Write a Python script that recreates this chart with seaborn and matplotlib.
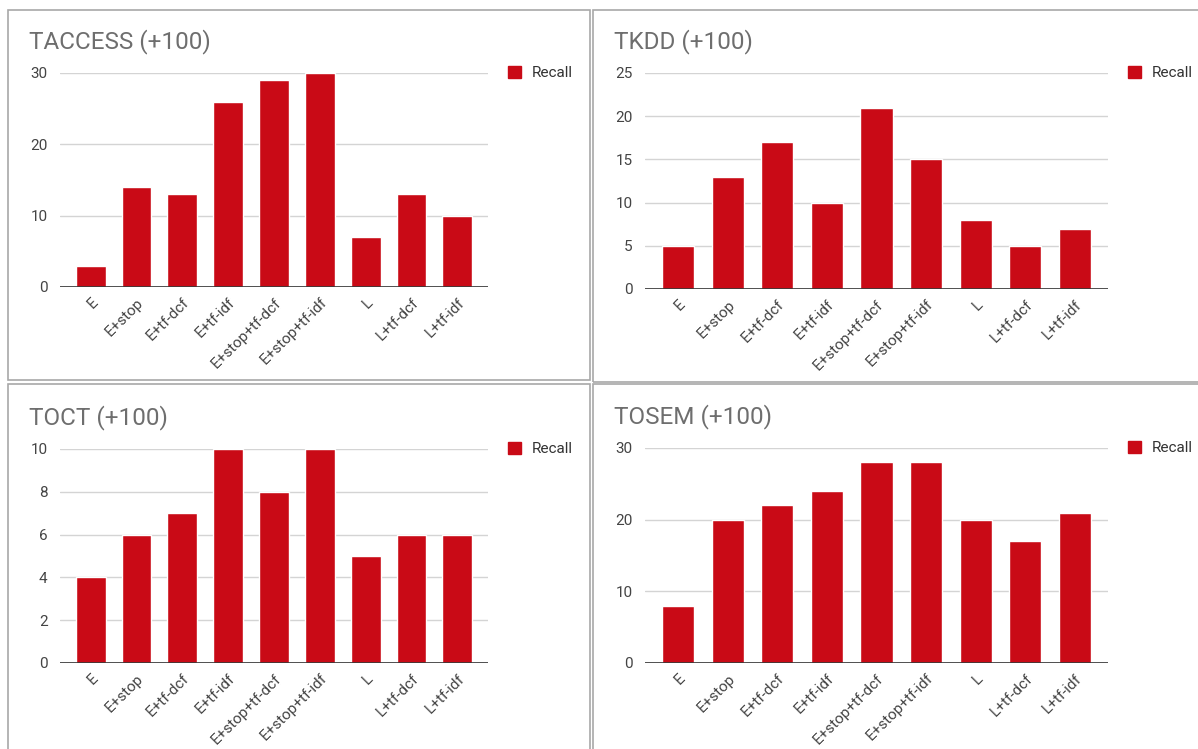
import matplotlib
matplotlib.use("Agg")
import matplotlib.pyplot as plt
import seaborn as sns
import pandas as pd
from matplotlib.patches import Rectangle, Patch

categories = ["E", "E+stop", "E+tf-dcf", "E+tf-idf", "E+stop+tf-dcf",
              "E+stop+tf-idf", "L", "L+tf-dcf", "L+tf-idf"]
taccess = [3, 14, 13, 26, 29, 30, 7, 13, 10]
tkdd = [5, 13, 17, 10, 21, 15, 8, 5, 7]
toct = [4, 6, 7, 10, 8, 10, 5, 6, 6]
tosem = [8, 20, 22, 24, 28, 28, 20, 17, 21]
titles = ["TACCESS (+100)", "TKDD (+100)", "TOCT (+100)", "TOSEM (+100)"]
yticks_list = [[0, 10, 20, 30], [0, 5, 10, 15, 20, 25], [0, 2, 4, 6, 8, 10], [0, 10, 20, 30]]
series_name = "Recall"

sns.set_theme(style="white")
plt.rcParams['font.family'] = ['Roboto', 'DejaVu Sans']

W, H = 1198, 749
fig = plt.figure(figsize=(W / 100, H / 100), dpi=100)
fig.patch.set_facecolor("white")

BAR = "#c90a16"

def fx(px):
    return px / W

def fy(py):
    return 1 - py / H

# panel boxes: (x0, y0, x1, y1) in pixels
panels = [(8, 10, 590, 380), (593, 10, 1210, 382), (8, 384, 590, 760), (593, 384, 1210, 760)]
# axes: (left, right, top_pix, bottom_pix)
axes_pix = [(60, 488, 73, 287), (645, 1108, 73, 289), (60, 488, 449, 663), (645, 1108, 448, 663)]
data_list = [taccess, tkdd, toct, tosem]

for (x0, y0, x1, y1) in panels:
    fig.patches.append(Rectangle((fx(x0), fy(y1)), fx(x1 - x0), (y1 - y0) / H,
                                 transform=fig.transFigure, fill=False,
                                 edgecolor="#a8a8a8", linewidth=1.2))

for i in range(4):
    l, r, t, b = axes_pix[i]
    ax = fig.add_axes([fx(l), fy(b), fx(r - l), (b - t) / H])
    df = pd.DataFrame({"cat": categories, "val": data_list[i]})
    sns.barplot(data=df, x="cat", y="val", color=BAR, saturation=1, width=0.65,
                ax=ax, zorder=3)
    yt = yticks_list[i]
    ax.set_ylim(0, yt[-1])
    ax.set_xlim(-0.67, 8.67)
    ax.set_yticks(yt)
    ax.set_yticklabels([str(v) for v in yt], fontsize=11, color="#444444")
    ax.set_xlabel("")
    ax.set_ylabel("")
    for s in ax.spines.values():
        s.set_visible(False)
    ax.grid(axis="y", color="#d4d4d4", linewidth=1, zorder=0)
    ax.set_axisbelow(True)
    ax.axhline(0, color="#333333", linewidth=1.2, zorder=4)
    ax.tick_params(axis="both", length=0, pad=9)
    ax.tick_params(axis="x", pad=6)
    ax.set_xticks(range(len(categories)))
    ax.set_xticklabels(categories, rotation=45, ha="right", va="top",
                       rotation_mode="anchor", fontsize=11, color="#444444")
    # title
    px0 = panels[i][0]
    fig.text(fx(px0 + 21), fy(t - 31), titles[i], fontsize=17.5, color="#6e6e6e",
             ha="left", va="center")
    # legend
    leg = ax.legend(handles=[Patch(facecolor=BAR, edgecolor=BAR, label=series_name)],
                    loc="center left", bbox_to_anchor=(fx(r + 20), fy(t)),
                    bbox_transform=fig.transFigure, frameon=False, fontsize=11,
                    handlelength=0.85, handleheight=0.85, handletextpad=0.7,
                    borderaxespad=0, borderpad=0)
    for txt in leg.get_texts():
        txt.set_color("#333333")

fig.savefig("out.png", dpi=100, facecolor="white")
